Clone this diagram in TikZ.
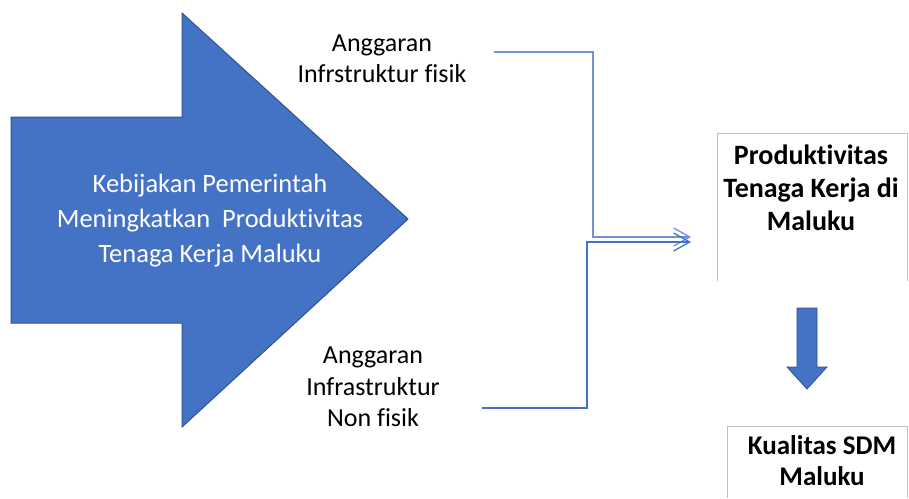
\documentclass[tikz,border=0pt]{standalone}
\usepackage{fontspec}
\setmainfont{Carlito}[Ligatures=NoCommon]
\usetikzlibrary{arrows.meta}
\definecolor{accblue}{HTML}{4472C4}
\definecolor{accdark}{HTML}{2F528F}
\definecolor{linelight}{HTML}{6F93D8}
\definecolor{boxgray}{HTML}{BFBFBF}
\tikzset{
  lbl/.style={font=\fontsize{26}{31.5}\selectfont, align=center, inner sep=0pt},
  wlbl/.style={font=\fontsize{26.5}{35}\selectfont, align=center, inner sep=0pt, text=white},
  blbl/.style={font=\fontsize{28}{33}\selectfont\bfseries, align=center, inner sep=0pt},
  blbls/.style={font=\fontsize{27}{31}\selectfont\bfseries, align=center, inner sep=0pt},
  conn/.style={line width=1.3pt, -{Straight Barb[length=16pt,width=18pt,line width=1.3pt]}},
  boxline/.style={draw=boxgray, line width=0.8pt},
}
\begin{document}
\begin{tikzpicture}[x=1pt,y=-1pt]
\useasboundingbox (0,0) rectangle (909,498);
% big arrow
\draw[fill=accblue, draw=accdark, line width=1pt]
  (11,117) -- (182,117) -- (182,13) -- (408,219) -- (182,427) -- (182,323) -- (11,323) -- cycle;
\node[wlbl] (keb) at (210,221) {Kebijakan Pemerintah\\Meningkatkan\ \ Produktivitas\\Tenaga Kerja Maluku};
% labels
\node[lbl] (fis) at (382,59) {Anggaran\\Infrstruktur fisik};
\node[lbl] (nonfis) at (373,387) {Anggaran\\Infrastruktur\\Non fisik};
% boxes
\draw[boxline] (717,281) -- (717,133) -- (907,133) -- (907,281);
\node[blbl] (prod) at (811,188) {Produktivitas\\Tenaga Kerja di\\Maluku};
\draw[boxline] (727,498) -- (727,426) -- (907,426) -- (907,498);
\node[blbls] (sdm) at (822,461) {Kualitas SDM\\Maluku};
% connectors
\coordinate (f0) at (494,52);
\coordinate (f1) at (691,237);
\coordinate (n0) at (482,408);
\coordinate (n1) at (691,242);
\draw[conn, draw=linelight] (f0) -- (593,52) -- (593,237) -- (f1);
\draw[conn, draw=accblue] (n0) -- (587,408) -- (587,242) -- (n1);
% down arrow
\draw[fill=accblue, draw=accdark, line width=0.8pt]
  (797,308) -- (817,308) -- (817,367) -- (827,367) -- (807,389) -- (787,367) -- (797,367) -- cycle;
\end{tikzpicture}
\end{document}
